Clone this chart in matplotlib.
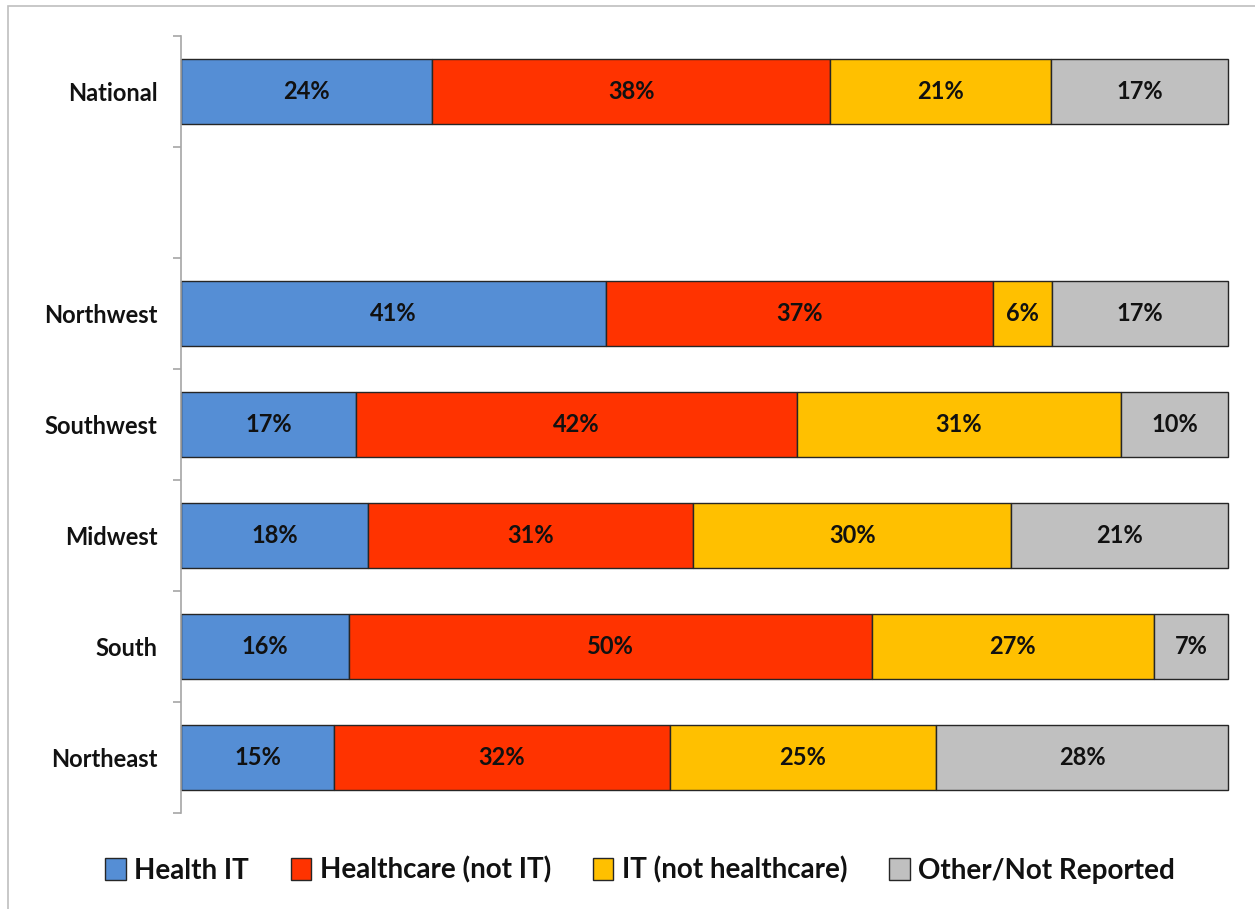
import matplotlib
matplotlib.use("Agg")
import matplotlib.pyplot as plt
from matplotlib.patches import Rectangle
import numpy as np

categories = ["Northeast", "South", "Midwest", "Southwest", "Northwest", "National"]
slots = [0, 1, 2, 3, 4, 6]
series_names = ["Health IT", "Healthcare (not IT)", "IT (not healthcare)", "Other/Not Reported"]
health_it = [14.6, 16.0, 17.9, 16.7, 40.6, 24.0]
healthcare = [32.1, 50.0, 31.0, 42.1, 37.0, 38.0]
it_only = [25.4, 26.9, 30.4, 31.0, 5.6, 21.1]
other = [27.9, 7.1, 20.7, 10.2, 16.8, 16.9]
colors = ["#558ED5", "#FF3300", "#FFC000", "#C0C0C0"]

plt.rcParams['font.family'] = ['Lato', 'DejaVu Sans']

fig = plt.figure(figsize=(12.55, 9.09), dpi=100)
ax = fig.add_axes([181/1255, 1 - 813/909, (1228-181)/1255, (813-36)/909])

left = np.zeros(len(categories))
for name, vals, col in zip(series_names, [health_it, healthcare, it_only, other], colors):
    vals = np.array(vals)
    bars = ax.barh(slots, vals, left=left, height=0.58, color=col,
                   edgecolor="#262626", linewidth=1.0, label=name, clip_on=False)
    for y, l, v in zip(slots, left, vals):
        ax.text(l + v/2, y, f"{v:.0f}%", ha="center", va="center",
                fontsize=17, fontweight="bold", color="#111111")
    left += vals

ax.set_xlim(0, 100)
ax.set_ylim(-0.5, 6.5)
ax.set_yticks(slots)
ax.set_yticklabels(categories, fontsize=17, fontweight="bold", color="#111111")
ax.tick_params(axis="y", which="major", length=0, pad=17)
ax.set_yticks(np.arange(-0.5, 7.0, 1.0), minor=True)
ax.tick_params(axis="y", which="minor", length=6, color="#A6A6A6", width=1.2)
ax.set_xticks([])
for s in ["top", "right", "bottom"]:
    ax.spines[s].set_visible(False)
ax.spines["left"].set_color("#A6A6A6")
ax.spines["left"].set_linewidth(1.2)

leg = fig.legend(loc="center", bbox_to_anchor=(640/1255, 1 - 870/909), ncol=4,
                 frameon=False, handlelength=0.75, handleheight=0.8,
                 handletextpad=0.3, columnspacing=1.5,
                 prop={"weight": "bold", "size": 20})
for t in leg.get_texts():
    t.set_color("#111111")

# outer frame
fig.add_artist(Rectangle((8/1255, -0.01), 1.1, 1 - 6/909 + 0.01, transform=fig.transFigure,
                         fill=False, edgecolor="#BFBFBF", linewidth=1.2))

fig.savefig("out.png", dpi=100)
